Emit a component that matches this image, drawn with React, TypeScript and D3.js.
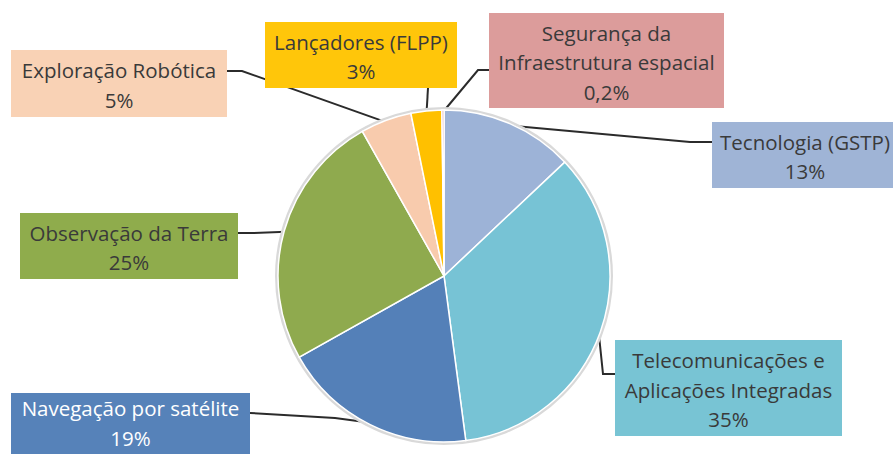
import React from "react";
import * as d3 from "d3";

const categories = [
  "Tecnologia (GSTP)",
  "Telecomunicações e Aplicações Integradas",
  "Navegação por satélite",
  "Observação da Terra",
  "Exploração Robótica",
  "Lançadores (FLPP)",
  "Segurança da Infraestrutura espacial",
];
const values = [13, 35, 19, 25, 5, 3, 0.2];
const percentLabels = ["13%", "35%", "19%", "25%", "5%", "3%", "0,2%"];
const labelLines = [
  ["Tecnologia (GSTP)"],
  ["Telecomunicações e", "Aplicações Integradas"],
  ["Navegação por satélite"],
  ["Observação da Terra"],
  ["Exploração Robótica"],
  ["Lançadores (FLPP)"],
  ["Segurança da", "Infraestrutura espacial"],
];
const sliceColors = ["#9DB3D7", "#77C3D5", "#5480B8", "#8FAA4E", "#F8CBAD", "#FFC000", "#DA9694"];
const boxColors = ["#9FB4D6", "#78C4D4", "#5682B9", "#8FAC4C", "#F9D2B5", "#FFC60A", "#DC9C9B"];
const textColors = ["#3a3a3a", "#3a3a3a", "#fff", "#3a3a3a", "#3a3a3a", "#3a3a3a", "#3a3a3a"];

// layout: label boxes [x, y, w, h], text offsets and leader elbow points
const boxes = [
  [712, 122, 200, 66],
  [615, 340, 227, 96],
  [11, 393, 239, 66],
  [20, 213, 218, 66],
  [11, 50, 216, 67],
  [265, 22, 192, 66],
  [489, 13, 235, 95],
];
const textOffsets = [
  [-7, 1.5],
  [0, 1.5],
  [0, -3],
  [0, 1.5],
  [0, 1.5],
  [0, 1.5],
  [0, 1.5],
];
const leaderPaths: [number, number][][] = [
  [[690, 142], [712, 142]],
  [[603, 374], [615, 374]],
  [[335, 418], [250, 413]],
  [[253, 233], [238, 233]],
  [[242, 71], [227, 71]],
  [[428, 88]],
  [[478, 70], [489, 70]],
];

const W = 893;
const H = 454;
const cx = 444;
const cy = 276;
const R = 166;

export default function App() {
  const pie = d3.pie<number>().sort(null).value((d) => d)(values);
  const arc = d3.arc<d3.PieArcDatum<number>>().innerRadius(0).outerRadius(R);
  const edge = d3.arc<d3.PieArcDatum<number>>().innerRadius(R - 2).outerRadius(R - 2);
  const lineGen = d3.line();
  const font = "'Open Sans', sans-serif";
  const fs = 20.5;
  const lh = 29.5;

  return (
    <svg
      width={W}
      height={H}
      style={{ position: "absolute", left: 0, top: 0, background: "#fff" }}
      fontFamily={font}
    >
      {pie.map((p, i) => {
        const [ax, ay] = edge.centroid(p);
        const pts: [number, number][] = [[cx + ax, cy + ay], ...leaderPaths[i]];
        return (
          <path
            key={"l" + i}
            d={lineGen(pts) || ""}
            fill="none"
            stroke="#2b2b2b"
            strokeWidth={2}
          />
        );
      })}
      <circle cx={cx} cy={cy} r={R + 1.5} fill="none" stroke="#d9d9d9" strokeWidth={3} />
      <g transform={`translate(${cx},${cy})`}>
        {pie.map((p, i) => (
          <path key={"s" + i} d={arc(p) || ""} fill={sliceColors[i]} stroke="#fff" strokeWidth={1.5} />
        ))}
      </g>
      {categories.map((c, i) => {
        const [bx, by, bw, bh] = boxes[i];
        const [ox, oy] = textOffsets[i];
        const lines = [...labelLines[i], percentLabels[i]];
        const n = lines.length;
        const top = by + bh / 2 - ((n - 1) * lh) / 2 + oy;
        return (
          <g key={"b" + i}>
            <rect x={bx} y={by} width={bw} height={bh} fill={boxColors[i]} />
            <text
              textAnchor="middle"
              fontSize={fs}
              fill={textColors[i]}
              dominantBaseline="central"
            >
              {lines.map((t, j) => (
                <tspan key={j} x={bx + bw / 2 + ox} y={top + j * lh}>
                  {t}
                </tspan>
              ))}
            </text>
          </g>
        );
      })}
    </svg>
  );
}
